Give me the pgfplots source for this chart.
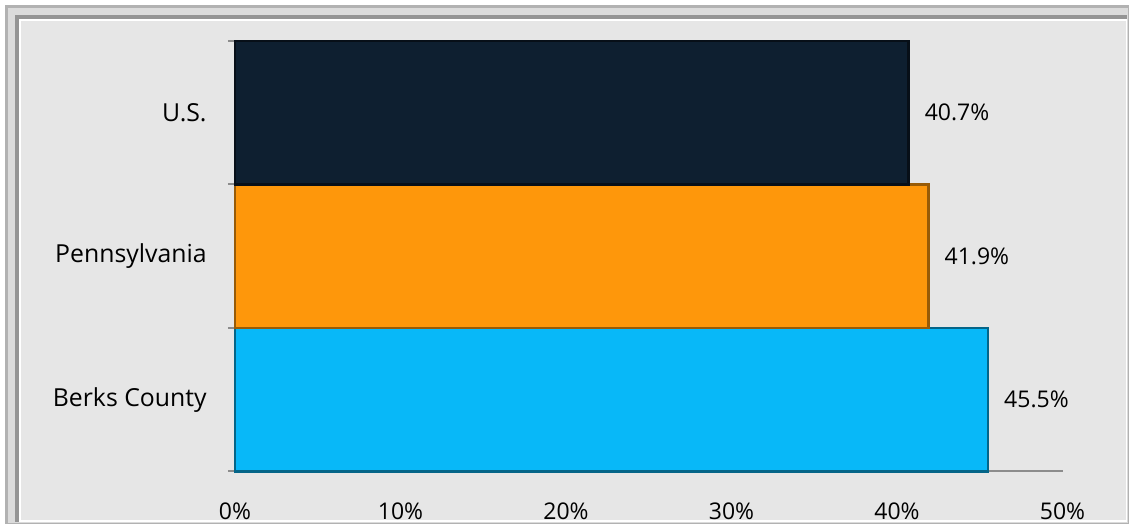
\documentclass[border=0pt]{standalone}
\usepackage{pgfplots}
\pgfplotsset{compat=1.18}
\usepackage{fontspec}
\setmainfont{Open Sans}
\definecolor{bgc}{HTML}{E6E6E6}
\definecolor{usc}{HTML}{0E1F30}
\definecolor{pac}{HTML}{FE970B}
\definecolor{bkc}{HTML}{08B8F8}
\definecolor{axc}{HTML}{8C8C8C}
\begin{document}
\begin{tikzpicture}
\path[use as bounding box] (0,0) rectangle (566pt,264.5pt);
\begin{scope}[x=0.5pt,y=-0.5pt,shift={(0,264.5pt)}]
\fill[white] (0,0) rectangle (1132,529);
\fill[black!30] (5,5) rectangle (1129,524);
\fill[black!14] (8,8) rectangle (1128,523);
\fill[black!42] (15,15) rectangle (1127,522);
\fill[white] (19,19) rectangle (1127,522);
\fill[bgc] (21,21) rectangle (1126,520);
\end{scope}
\begin{axis}[
  at={(117.5pt,28.75pt)}, anchor=south west,
  scale only axis, width=413.75pt, height=215.25pt,
  xbar, bar width=1,
  xmin=0, xmax=50, ymin=-0.5, ymax=2.5,
  axis x line*=bottom, axis y line*=left,
  axis line style={axc, line width=1pt},
  xtick={0,10,20,30,40,50},
  xticklabels={0\%,10\%,20\%,30\%,40\%,50\%},
  ytick={0,1,2},
  yticklabels={Berks County,Pennsylvania,U.S.},
  minor ytick={-0.5,0.5,1.5,2.5},
  major tick length=0pt, minor tick length=3.5pt,
  tick align=outside,
  minor tick style={axc, line width=1pt},
  tick label style={font=\fontsize{11.5}{13}\selectfont, black},
  yticklabel style={anchor=east, inner sep=0pt, xshift=-14pt, font=\fontsize{12.4}{14}\selectfont},
  xticklabel style={anchor=base, inner sep=0pt, yshift=-24pt},
  /pgf/number format/assume math mode=true,
  nodes near coords={\pgfmathprintnumber[fixed,precision=1,fixed zerofill,assume math mode=true]{\pgfplotspointmeta}\%},
  nodes near coords style={anchor=west, inner sep=0pt, xshift=7.5pt, font=\fontsize{11.5}{13}\selectfont, black},
  point meta=x,
  clip=false,
]
\addplot[fill=bkc, draw=bkc!55!black, line width=1.2pt, bar shift=0pt] coordinates {(45.5,0)};
\addplot[fill=pac, draw=pac!60!black, line width=1.2pt, bar shift=0pt] coordinates {(41.9,1)};
\addplot[fill=usc, draw=usc!50!black, line width=1.2pt, bar shift=0pt] coordinates {(40.7,2)};
\end{axis}
\end{tikzpicture}
\end{document}
